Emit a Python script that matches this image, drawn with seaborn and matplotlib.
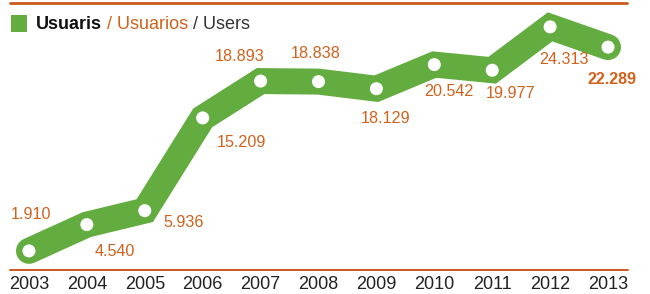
import matplotlib
matplotlib.use("Agg")
import matplotlib.pyplot as plt
import seaborn as sns
import pandas as pd
from matplotlib.patches import Rectangle

# ---- data ----
years = [2003, 2004, 2005, 2006, 2007, 2008, 2009, 2010, 2011, 2012, 2013]
users = [1910, 4540, 5936, 15209, 18893, 18838, 18129, 20542, 19977, 24313, 22289]
value_labels = ["1.910", "4.540", "5.936", "15.209", "18.893", "18.838",
                "18.129", "20.542", "19.977", "24.313", "22.289"]
year_labels = [str(y) for y in years]
legend_parts = ["Usuaris", " / Usuarios", " / Users"]

# label offsets (pixels) relative to each point
label_offsets = [(2, 36), (28, -27), (39, -12), (39, -25), (-21, 25), (-3, 28),
                 (9, -30), (15, -27), (18, -23), (14, -33), (4, -32)]

GREEN = "#63AC3F"
ORANGE = "#D2611C"
LINE_ORANGE = "#CC5A1E"
DARK = "#222222"

sns.set_theme(style="white")
plt.rcParams["font.family"] = ["Liberation Sans", "DejaVu Sans"]

df = pd.DataFrame({"year": years, "users": users})

fig = plt.figure(figsize=(6.5, 2.94), dpi=100)
ax = fig.add_axes([0, 22 / 294, 1, 272 / 294])

sns.lineplot(data=df, x="year", y="users", ax=ax, color=GREEN, linewidth=18.7,
             solid_joinstyle="miter", solid_capstyle="round", zorder=2)
sns.scatterplot(data=df, x="year", y="users", ax=ax, color="white", s=88,
                edgecolor="none", linewidth=0, zorder=3)

for i, (x, y, lab, (dx, dy)) in enumerate(zip(years, users, value_labels, label_offsets)):
    ax.annotate(lab, xy=(x, y), xytext=(dx, dy), textcoords="offset pixels",
                ha="center", va="center", fontsize=11.6, color=ORANGE,
                fontweight="bold" if i == len(years) - 1 else "normal")

ax.set_xlim(2002.5, 2013.725)
ax.set_ylim(-200, 27000)

ax.axhline(0, xmin=10 / 650, xmax=628 / 650, color=LINE_ORANGE, linewidth=1.4, zorder=1)
ax.axhline(26700, xmin=10 / 650, xmax=627 / 650, color=LINE_ORANGE, linewidth=2.0, zorder=1)

ax.set_xticks(years)
ax.set_xticklabels(year_labels, fontsize=13, color=DARK)
ax.tick_params(axis="x", length=0, pad=3)
ax.set_yticks([])
ax.set_xlabel("")
ax.set_ylabel("")
for s in ax.spines.values():
    s.set_visible(False)
ax.patch.set_alpha(0)

# legend
fig.patches.append(Rectangle((11 / 650, 1 - 32 / 294), 16 / 650, 17 / 294,
                             transform=fig.transFigure, facecolor=GREEN,
                             edgecolor="none"))
fig.canvas.draw()
renderer = fig.canvas.get_renderer()
xpix = 36
colors = ["#111111", ORANGE, "#333333"]
weights = ["bold", "normal", "normal"]
for part, c, w in zip(legend_parts, colors, weights):
    t = fig.text(xpix / 650, 1 - 29 / 294, part, fontsize=13, color=c,
                 fontweight=w, ha="left", va="baseline")
    bb = t.get_window_extent(renderer=renderer)
    xpix = bb.x1

fig.savefig("out.png", dpi=100)
